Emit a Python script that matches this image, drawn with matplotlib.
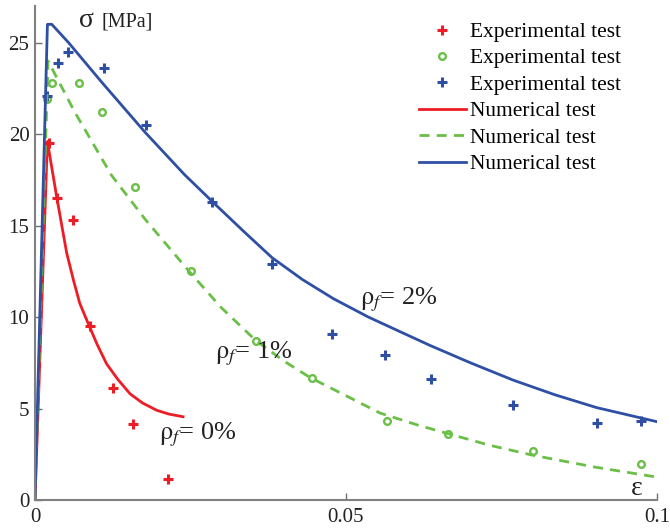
import matplotlib
matplotlib.use("Agg")
import matplotlib.pyplot as plt

plt.rcParams['font.family'] = 'serif'
plt.rcParams['font.serif'] = ['Liberation Serif', 'DejaVu Serif']
plt.rcParams['mathtext.fontset'] = 'stix'

# Experimental data (strain, stress in MPa)
exp0_x = [0.0022, 0.0035, 0.0061, 0.0088, 0.0125, 0.0158, 0.0214]
exp0_y = [19.5, 16.5, 15.3, 9.5, 6.1, 4.15, 1.15]

exp1_x = [0.0019, 0.0027, 0.0071, 0.0108, 0.0161, 0.0251, 0.0355, 0.0445, 0.0566, 0.0664, 0.0800, 0.0974]
exp1_y = [21.9, 22.8, 22.8, 21.2, 17.1, 12.5, 8.7, 6.65, 4.3, 3.6, 2.67, 1.96]

exp2_x = [0.0019, 0.0037, 0.0053, 0.0111, 0.0178, 0.0285, 0.0381, 0.0477, 0.0563, 0.0637, 0.0768, 0.0904, 0.0974]
exp2_y = [22.1, 23.9, 24.5, 23.6, 20.5, 16.3, 12.9, 9.1, 7.9, 6.6, 5.2, 4.2, 4.3]

# Numerical results
num0_x = [0, 0.0020, 0.0035, 0.0051, 0.0062, 0.0072, 0.0088, 0.0100, 0.0115, 0.0133,
          0.0153, 0.0173, 0.0196, 0.0215, 0.0238]
num0_y = [0, 19.6, 16.55, 13.5, 12.0, 10.75, 9.45, 8.5, 7.45, 6.6,
          5.8, 5.3, 4.9, 4.7, 4.55]

num1_x = [0, 0.0021, 0.0064, 0.0123, 0.0177, 0.0249, 0.0300, 0.0354, 0.0400, 0.0442,
          0.0500, 0.0555, 0.0615, 0.0667, 0.0730, 0.0800, 0.0900, 0.1000]
num1_y = [0, 24.0, 21.2, 17.75, 15.35, 12.45, 10.5, 8.75, 7.6, 6.7,
          5.7, 4.75, 4.1, 3.6, 3.0, 2.45, 1.8, 1.25]

num2_x = [0, 0.0020, 0.0027, 0.0054, 0.0107, 0.0177, 0.0240, 0.0287, 0.0335, 0.0381,
          0.0430, 0.0480, 0.0536, 0.0587, 0.0635, 0.0700, 0.0769, 0.0836, 0.0903, 0.1000]
num2_y = [0, 26.0, 26.0, 25.0, 22.85, 20.1, 17.8, 16.25, 14.7, 13.25,
          12.05, 11.0, 10.0, 9.2, 8.45, 7.5, 6.55, 5.75, 5.05, 4.28]

red = '#ee1d25'
green = '#6abf47'
blue = '#2e4fa3'

fig = plt.figure(figsize=(6.7, 5.3), dpi=100)
ax = fig.add_axes([0.0522, 0.0566, 0.9284, 0.932])

ax.plot(exp0_x, exp0_y, linestyle='none', marker='+', ms=6.5, mew=2.2,
        color=red, label='Experimental test')
ax.plot(exp1_x, exp1_y, linestyle='none', marker='o', ms=4.8, mfc='none',
        mec=green, mew=1.7, label='Experimental test')
ax.plot(exp2_x, exp2_y, linestyle='none', marker='+', ms=6.5, mew=2.2,
        color=blue, label='Experimental test')

ax.plot(num0_x, num0_y, color=red, lw=2, label='Numerical test')
ax.plot(num1_x, num1_y, color=green, lw=2, dashes=(3.6, 2.6), label='Numerical test')
ax.plot(num2_x, num2_y, color=blue, lw=2, label='Numerical test')

ax.set_xlim(0, 0.1)
ax.set_ylim(0, 27)
ax.set_xticks([0, 0.05, 0.1])
ax.set_xticklabels(['0', '0.05', '0.1'])
ax.set_yticks([0, 5, 10, 15, 20, 25])
ax.tick_params(direction='in', length=5, width=1, colors='#707070',
               labelcolor='#222222', labelsize=15)
ax.tick_params(axis='x', pad=6)
ax.tick_params(axis='y', pad=4)
for side in ('top', 'right'):
    ax.spines[side].set_visible(False)
for side in ('left', 'bottom'):
    ax.spines[side].set_color('#808080')
    ax.spines[side].set_linewidth(1.5)

ax.legend(loc='upper right', bbox_to_anchor=(0.968, 1.0), frameon=False,
          fontsize=15.4, handlelength=2.2, handletextpad=0.2,
          labelspacing=0.3, borderaxespad=0.35)

ax.text(0.0070, 25.55, 'σ', fontsize=20, color='#222222', ha='left', va='bottom')
ax.text(0.0107, 25.6, '[MPa]', fontsize=14.5, color='#222222', ha='left', va='bottom')
ax.text(0.0958, -0.05, 'ε', fontsize=20, color='#222222', ha='left', va='bottom')

ax.text(0.0522, 10.7, r'$\mathrm{\rho}_{f}$= 2%', fontsize=19, color='#222222')
ax.text(0.0290, 7.75, r'$\mathrm{\rho}_{f}$= 1%', fontsize=19, color='#222222')
ax.text(0.0200, 3.3, r'$\mathrm{\rho}_{f}$= 0%', fontsize=19, color='#222222')

fig.savefig('out.png', dpi=100)
